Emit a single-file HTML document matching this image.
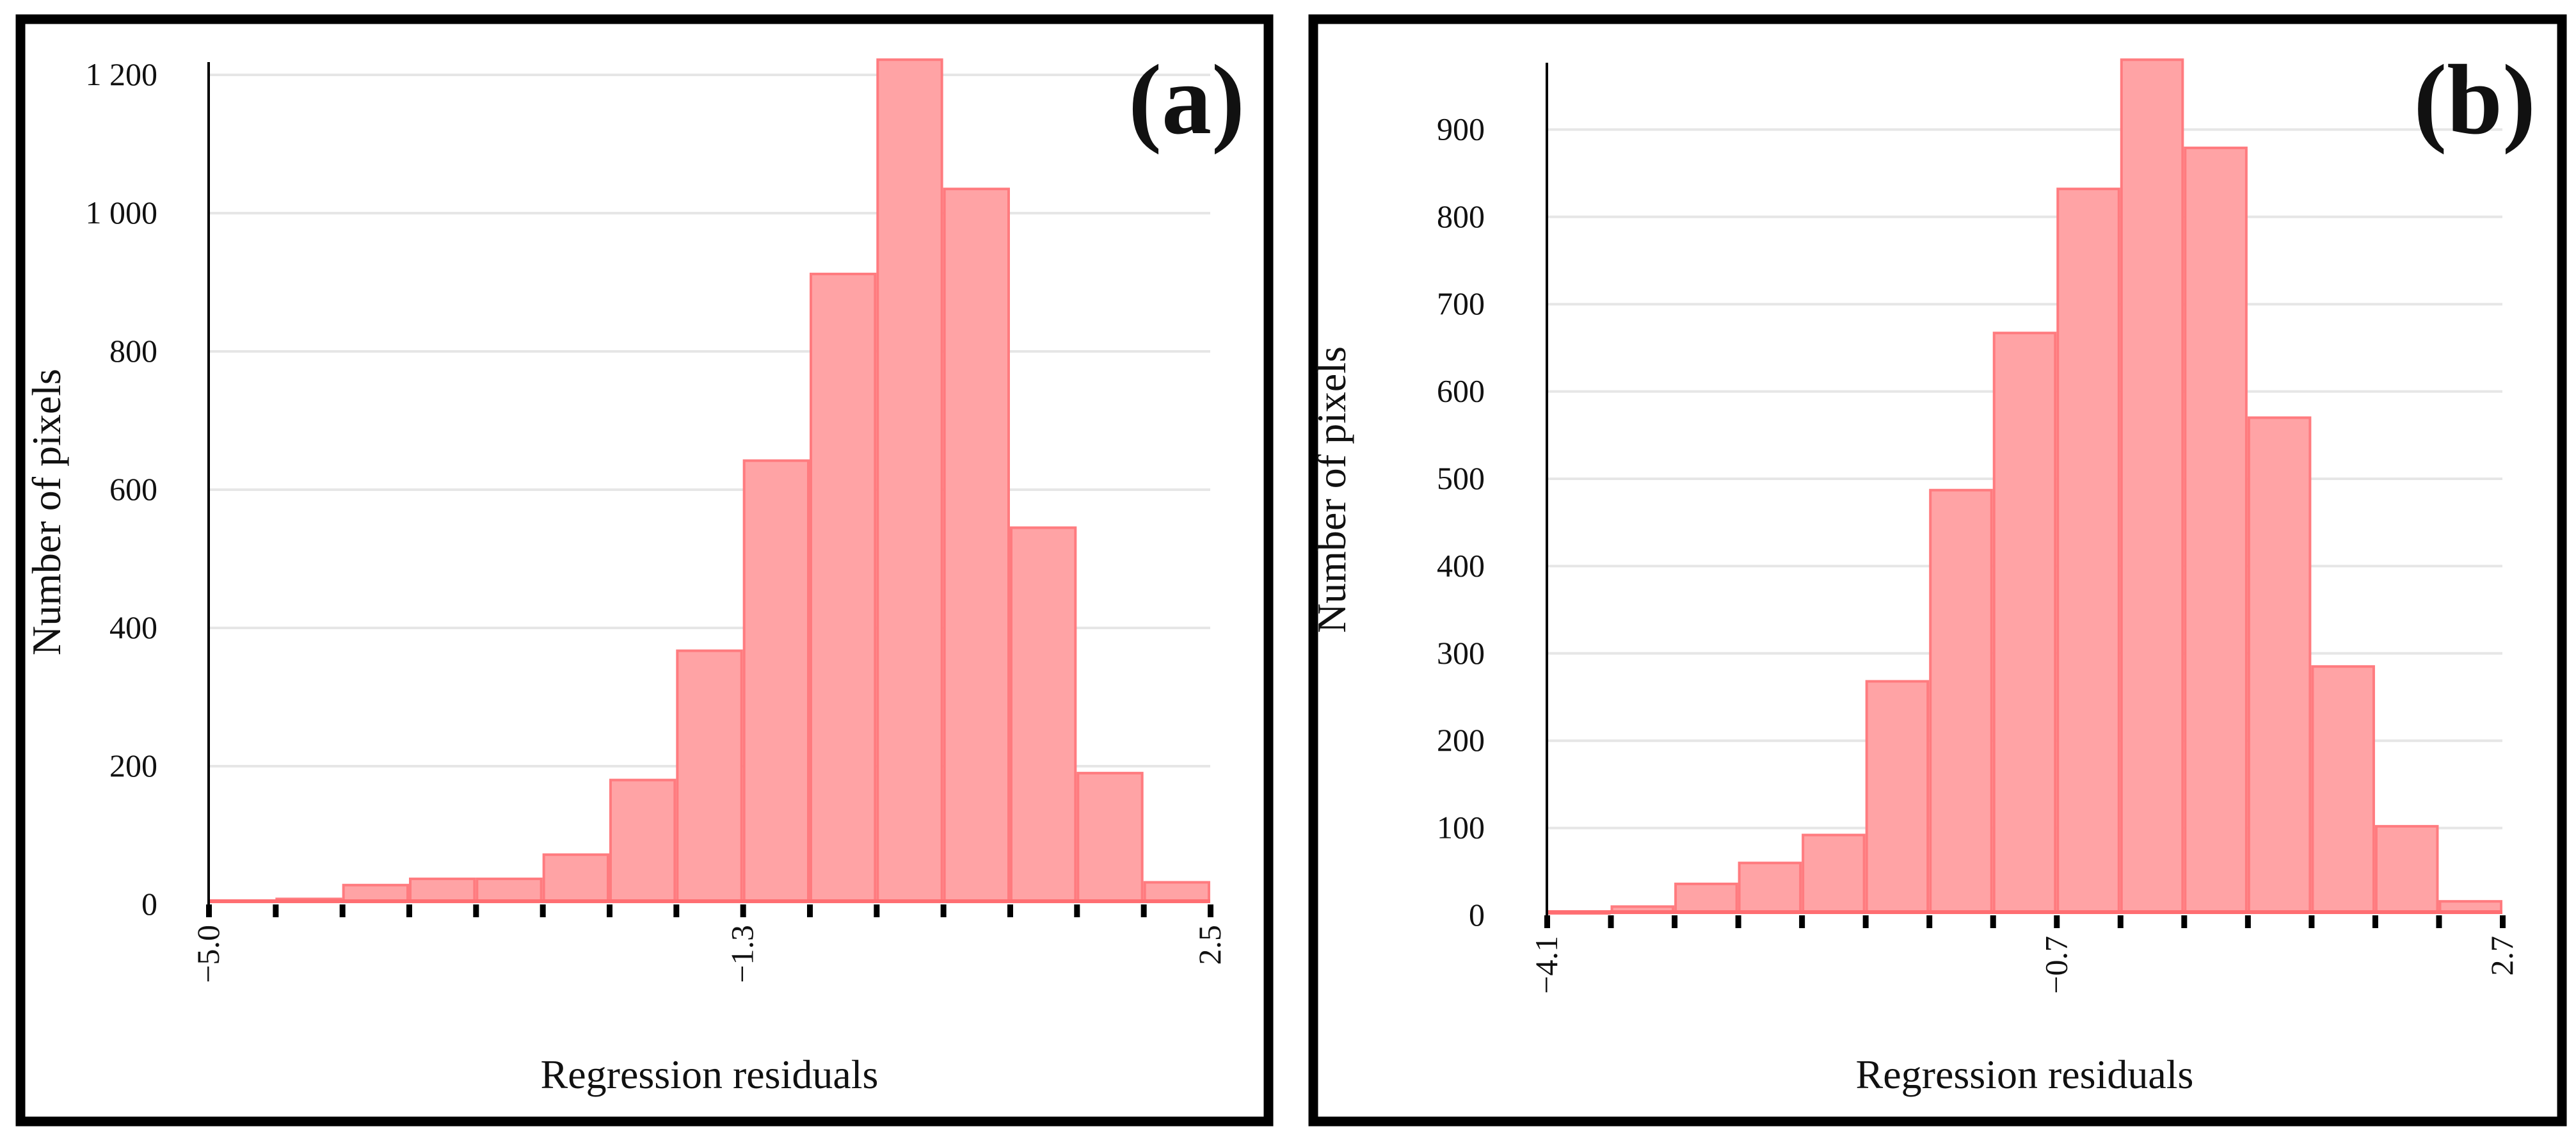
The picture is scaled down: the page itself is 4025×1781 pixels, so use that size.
<!DOCTYPE html>
<html><head><meta charset="utf-8">
<style>
html,body{margin:0;padding:0;background:#fff;}
svg{display:block;}
text{font-family:"Liberation Serif",serif;fill:#111;}
</style></head>
<body>
<svg id="chart" width="4025" height="1781" viewBox="0 0 4025 1781" xmlns="http://www.w3.org/2000/svg">
<rect x="32" y="30" width="1950" height="1722" fill="none" stroke="#000" stroke-width="15"/>
<rect x="2052" y="30" width="1951" height="1722" fill="none" stroke="#000" stroke-width="15"/>
<g id="pa"></g>
<g id="pb"></g>
</svg>
<script>
// Panel (a) data
const countsA = [5, 8, 28, 37, 37, 72, 180, 367, 642, 912, 1222, 1035, 545, 190, 32];
const yTicksA = [0, 200, 400, 600, 800, 1000, 1200];
const yTickLabelsA = ["0", "200", "400", "600", "800", "1 000", "1 200"];
const xTickIdxA = [0, 8, 15];
const xTickLabelsA = ["\u22125.0", "\u22121.3", "2.5"];
// Panel (b) data
const countsB = [3, 10, 36, 60, 92, 268, 487, 667, 832, 980, 879, 570, 285, 102, 16];
const yTicksB = [0, 100, 200, 300, 400, 500, 600, 700, 800, 900];
const yTickLabelsB = ["0", "100", "200", "300", "400", "500", "600", "700", "800", "900"];
const xTickIdxB = [0, 8, 15];
const xTickLabelsB = ["\u22124.1", "\u22120.7", "2.7"];

const NS = "http://www.w3.org/2000/svg";
function mk(parent, tag, attrs, txt) {
  const e = document.createElementNS(NS, tag);
  for (const k in attrs) e.setAttribute(k, attrs[k]);
  if (txt !== undefined) e.textContent = txt;
  parent.appendChild(e);
  return e;
}

function drawPanel(g, cfg, counts, yTicks, yLabels, xIdx, xLabels) {
  const n = counts.length;
  const bw = (cfg.x1 - cfg.x0) / n;
  const xs = i => cfg.x0 + i * bw;
  const ys = v => cfg.y0 - v * cfg.k;
  yTicks.forEach((t, i) => {
    if (t > 0) {
      const l = mk(g, "line", {x1: cfg.x0, x2: cfg.x1, y1: ys(t), y2: ys(t), stroke: "#e6e6e6", "stroke-width": 4});
      
      
    }
    const tx = mk(g, "text", {x: cfg.labX, y: ys(t) + 16, "text-anchor": "end", "font-size": 50}, yLabels[i]);
    
    
  });
  counts.forEach((v, i) => {
    const r = mk(g, "rect", {x: xs(i) + 2, y: ys(v), width: bw - 4, height: Math.max(cfg.y0 - ys(v) - 4, 1), fill: "#ffa3a5", stroke: "#ff7b7f", "stroke-width": 4});
    
    
  });
  const bl = mk(g, "line", {x1: cfg.x0, x2: cfg.x1, y1: cfg.y0 - 5, y2: cfg.y0 - 5, stroke: "#ff6e72", "stroke-width": 6});
  
  
  const ya = mk(g, "line", {x1: cfg.x0, x2: cfg.x0, y1: cfg.yTop, y2: cfg.y0, stroke: "#000", "stroke-width": 4});
  
  
  for (let i = 0; i <= n; i++) {
    const t = mk(g, "rect", {x: xs(i) - 4, y: cfg.y0, width: 9, height: 20, fill: "#000"});
    
    
  }
  xIdx.forEach((ix, j) => {
    const x = xs(ix) + 16, y = cfg.y0 + 32;
    const t = mk(g, "text", {x: x, y: y, "text-anchor": "end", "font-size": 50, transform: `rotate(-90 ${x} ${y})`}, xLabels[j]);
    
    
  });
  const xt = mk(g, "text", {x: (cfg.x0 + cfg.x1) / 2, y: 1700, "text-anchor": "middle", "font-size": 64}, "Regression residuals");
  
  
  const yx = cfg.titleX, yy = cfg.titleY;
  const yt = mk(g, "text", {x: yx, y: yy, "text-anchor": "middle", "font-size": 64, transform: `rotate(-90 ${yx} ${yy})`}, "Number of pixels");
  
  
  const pl = mk(g, "text", {x: cfg.plX, y: 208, "text-anchor": "end", "font-size": 156, "font-weight": "bold"}, cfg.panel);
  
  
}

drawPanel(document.getElementById("pa"),
  {x0: 326, x1: 1891, y0: 1413, k: 216 / 200, yTop: 97, labX: 246, titleX: 94, titleY: 800, plX: 1945, panel: "(a)"},
  countsA, yTicksA, yTickLabelsA, xTickIdxA, xTickLabelsA);
drawPanel(document.getElementById("pb"),
  {x0: 2417, x1: 3910, y0: 1430, k: 136.4 / 100, yTop: 98, labX: 2320, titleX: 2102, titleY: 765, plX: 3962, panel: "(b)"},
  countsB, yTicksB, yTickLabelsB, xTickIdxB, xTickLabelsB);
</script>
</body></html>
